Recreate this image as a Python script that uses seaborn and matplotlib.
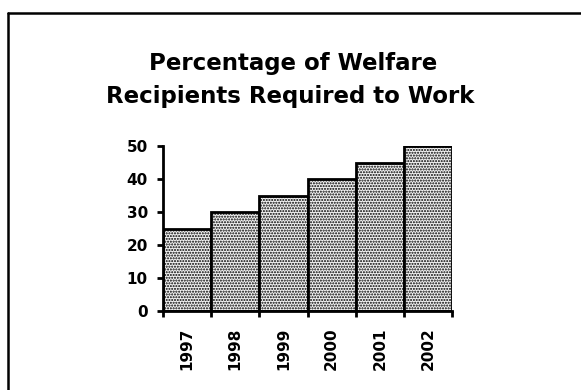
import matplotlib
matplotlib.use("Agg")
import matplotlib.pyplot as plt
from matplotlib.lines import Line2D
import seaborn as sns
import pandas as pd

years = ["1997", "1998", "1999", "2000", "2001", "2002"]
percent = [25, 30, 35, 40, 45, 50]
title_lines = ["Percentage of Welfare", "Recipients Required to Work"]

sns.set_style("ticks")
plt.rcParams['font.family'] = ['DejaVu Sans']
plt.rcParams['text.color'] = 'black'
plt.rcParams['xtick.color'] = 'black'
plt.rcParams['ytick.color'] = 'black'
plt.rcParams['axes.edgecolor'] = 'black'
plt.rcParams['hatch.color'] = 'black'
plt.rcParams['hatch.linewidth'] = 1.0

df = pd.DataFrame({"year": years, "pct": percent})

fig = plt.figure(figsize=(5.81, 3.90), dpi=100)
ax = fig.add_axes([0.2806, 0.2026, 0.778 - 0.2806, 0.6256 - 0.2026])

sns.barplot(data=df, x="year", y="pct", ax=ax, width=1.0, color="#f2f2f2",
            edgecolor="black", linewidth=2, hatch="......", saturation=1)

ax.set_xlim(-0.5, len(years) - 0.5)
ax.set_ylim(0, 50)
ax.set_yticks([0, 10, 20, 30, 40, 50])
ax.set_xlabel("")
ax.set_ylabel("")
for s in ["top", "right"]:
    ax.spines[s].set_visible(False)
for s in ["left", "bottom"]:
    ax.spines[s].set_linewidth(2)
ax.tick_params(axis="y", length=4, width=2, labelsize=11, pad=7, labelcolor="black")
ax.tick_params(axis="x", which="major", length=0, labelsize=11, pad=12, rotation=90,
               labelcolor="black")
ax.set_xticks([i - 0.5 for i in range(len(years) + 1)], minor=True)
ax.tick_params(axis="x", which="minor", length=4, width=2)
for lab in ax.get_xticklabels() + ax.get_yticklabels():
    lab.set_fontweight("bold")
for lab in ax.get_xticklabels():
    lab.set_va("top")

fig.text(0.505, 1 - 70 / 390, title_lines[0], ha="center", va="baseline",
         fontsize=16.5, fontweight="bold")
fig.text(0.50, 1 - 103 / 390, title_lines[1], ha="center", va="baseline",
         fontsize=16.5, fontweight="bold")

fig.add_artist(Line2D([0.0146, 1.0], [0.9654, 0.9654], transform=fig.transFigure,
                      color="black", linewidth=1.8))
fig.add_artist(Line2D([0.0146, 0.0146], [0.0, 0.9654], transform=fig.transFigure,
                      color="black", linewidth=1.8))

fig.savefig("out.png", dpi=100)
